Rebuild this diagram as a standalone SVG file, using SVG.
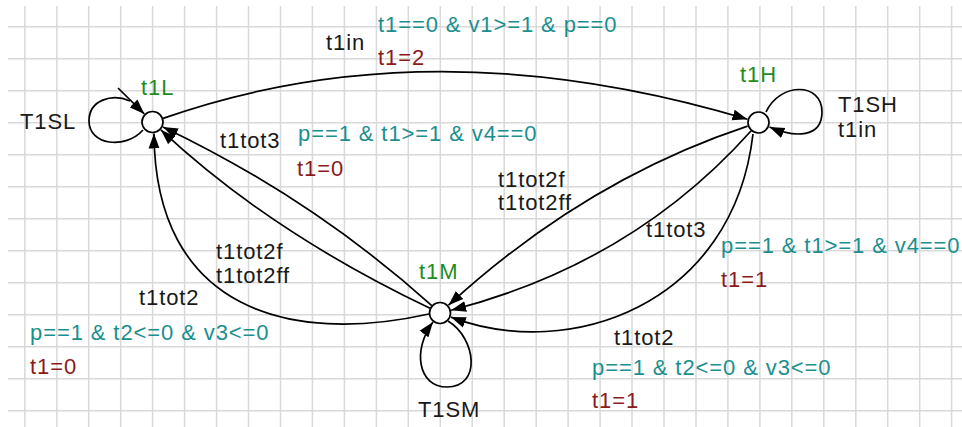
<svg xmlns="http://www.w3.org/2000/svg" width="962" height="427" viewBox="0 0 962 427">
<defs>
<style>
.grid{stroke:#d9d9d9;stroke-width:1.5;fill:none}
.edge{stroke:#000;stroke-width:1.7;fill:none}
.loc{fill:#fff;stroke:#000;stroke-width:1.7}
text{font-family:"Liberation Sans",Arial,sans-serif;font-size:22px;letter-spacing:0.9px}
.lbl{fill:#1a1a1a}
.name{fill:#1e8c1e}
.guard{fill:#1b8f8f}
.upd{fill:#8b1a1a}
</style>
<marker id="ah" viewBox="0 0 15 12" refX="15" refY="6" markerWidth="15" markerHeight="12" orient="auto" markerUnits="userSpaceOnUse"><path d="M0,0.5 L15,6 L0,11.5 z" fill="#000"/></marker>
</defs>
<rect x="0" y="0" width="962" height="427" fill="#fff"/>
<path class="grid" d="M24.8,6V427M56.8,6V427M88.7,6V427M120.7,6V427M152.6,6V427M184.6,6V427M216.6,6V427M248.5,6V427M280.5,6V427M312.4,6V427M344.4,6V427M376.4,6V427M408.3,6V427M440.3,6V427M472.2,6V427M504.2,6V427M536.2,6V427M568.1,6V427M600.1,6V427M632,6V427M664,6V427M696,6V427M727.9,6V427M759.9,6V427M791.8,6V427M823.8,6V427M855.8,6V427M887.7,6V427M919.7,6V427M951.6,6V427M8,26.7H962M8,58.7H962M8,90.7H962M8,122.7H962M8,154.7H962M8,186.7H962M8,218.7H962M8,250.7H962M8,282.7H962M8,314.7H962M8,346.7H962M8,378.7H962M8,410.7H962"/>
<g id="connectors">
<path class="edge" marker-end="url(#ah)" d="M163,118.4 Q430,24.5 747.5,119.2"/>
<path class="edge" d="M143,130 C125,150 89,145 89,121 C89,100 112,93 130,101"/>
<path class="edge" marker-end="url(#ah)" d="M118,88 L144.3,113.9"/>
<path class="edge" marker-end="url(#ah)" d="M766,112 C780,82 822,82 822,112 C822,138 795,138 769.5,127"/>
<path class="edge" marker-end="url(#ah)" d="M448,321 C476,338 482,387 447,387 C418,387 412,350 433,322"/>
<path class="edge" marker-end="url(#ah)" d="M431.8,305.6 Q312,198 162.9,126.9"/>
<path class="edge" marker-end="url(#ah)" d="M430,308.3 Q270,232 160.9,129.9"/>
<path class="edge" marker-end="url(#ah)" d="M429,314 C290,345 155,310 154,133.5"/>
<path class="edge" marker-end="url(#ah)" d="M747.6,126.1 Q585,180 448.5,305.2"/>
<path class="edge" marker-end="url(#ah)" d="M751.2,130.7 Q632.4,263.7 451.1,310.2"/>
<path class="edge" marker-end="url(#ah)" d="M753,134 C733,305 570,362 450.8,317.1"/>
</g>
<g id="t1L"><circle class="loc" cx="152.5" cy="122" r="10.5"/><text class="name" x="141" y="95">t1L</text></g>
<g id="t1H"><circle class="loc" cx="758.5" cy="122.5" r="10.5"/><text class="name" x="740" y="82">t1H</text></g>
<g id="t1M"><circle class="loc" cx="440" cy="313" r="10.5"/><text class="name" x="419" y="279">t1M</text></g>
<g id="labels">
<text class="lbl" x="20" y="129">T1SL</text>
<text class="lbl" x="838" y="112"><tspan x="838" y="112">T1SH</tspan><tspan x="838" y="137">t1in</tspan></text>
<text class="lbl" x="418" y="417">T1SM</text>
<text class="lbl" x="326" y="50">t1in</text>
<text class="guard" x="378" y="32">t1==0 &amp; v1&gt;=1 &amp; p==0</text>
<text class="upd" x="378" y="65">t1=2</text>
<text class="lbl" x="220" y="148">t1tot3</text>
<text class="guard" x="298" y="141">p==1 &amp; t1&gt;=1 &amp; v4==0</text>
<text class="upd" x="297" y="176">t1=0</text>
<text class="lbl" x="216" y="259"><tspan x="216" y="259">t1tot2f</tspan><tspan x="216" y="283">t1tot2ff</tspan></text>
<text class="lbl" x="139" y="305">t1tot2</text>
<text class="guard" x="30" y="340">p==1 &amp; t2&lt;=0 &amp; v3&lt;=0</text>
<text class="upd" x="30" y="374">t1=0</text>
<text class="lbl" x="498" y="187"><tspan x="498" y="187">t1tot2f</tspan><tspan x="498" y="210">t1tot2ff</tspan></text>
<text class="lbl" x="646" y="237">t1tot3</text>
<text class="guard" x="721" y="253">p==1 &amp; t1&gt;=1 &amp; v4==0</text>
<text class="upd" x="721" y="287">t1=1</text>
<text class="lbl" x="614" y="345">t1tot2</text>
<text class="guard" x="592" y="375">p==1 &amp; t2&lt;=0 &amp; v3&lt;=0</text>
<text class="upd" x="592" y="408">t1=1</text>
</g>
</svg>
